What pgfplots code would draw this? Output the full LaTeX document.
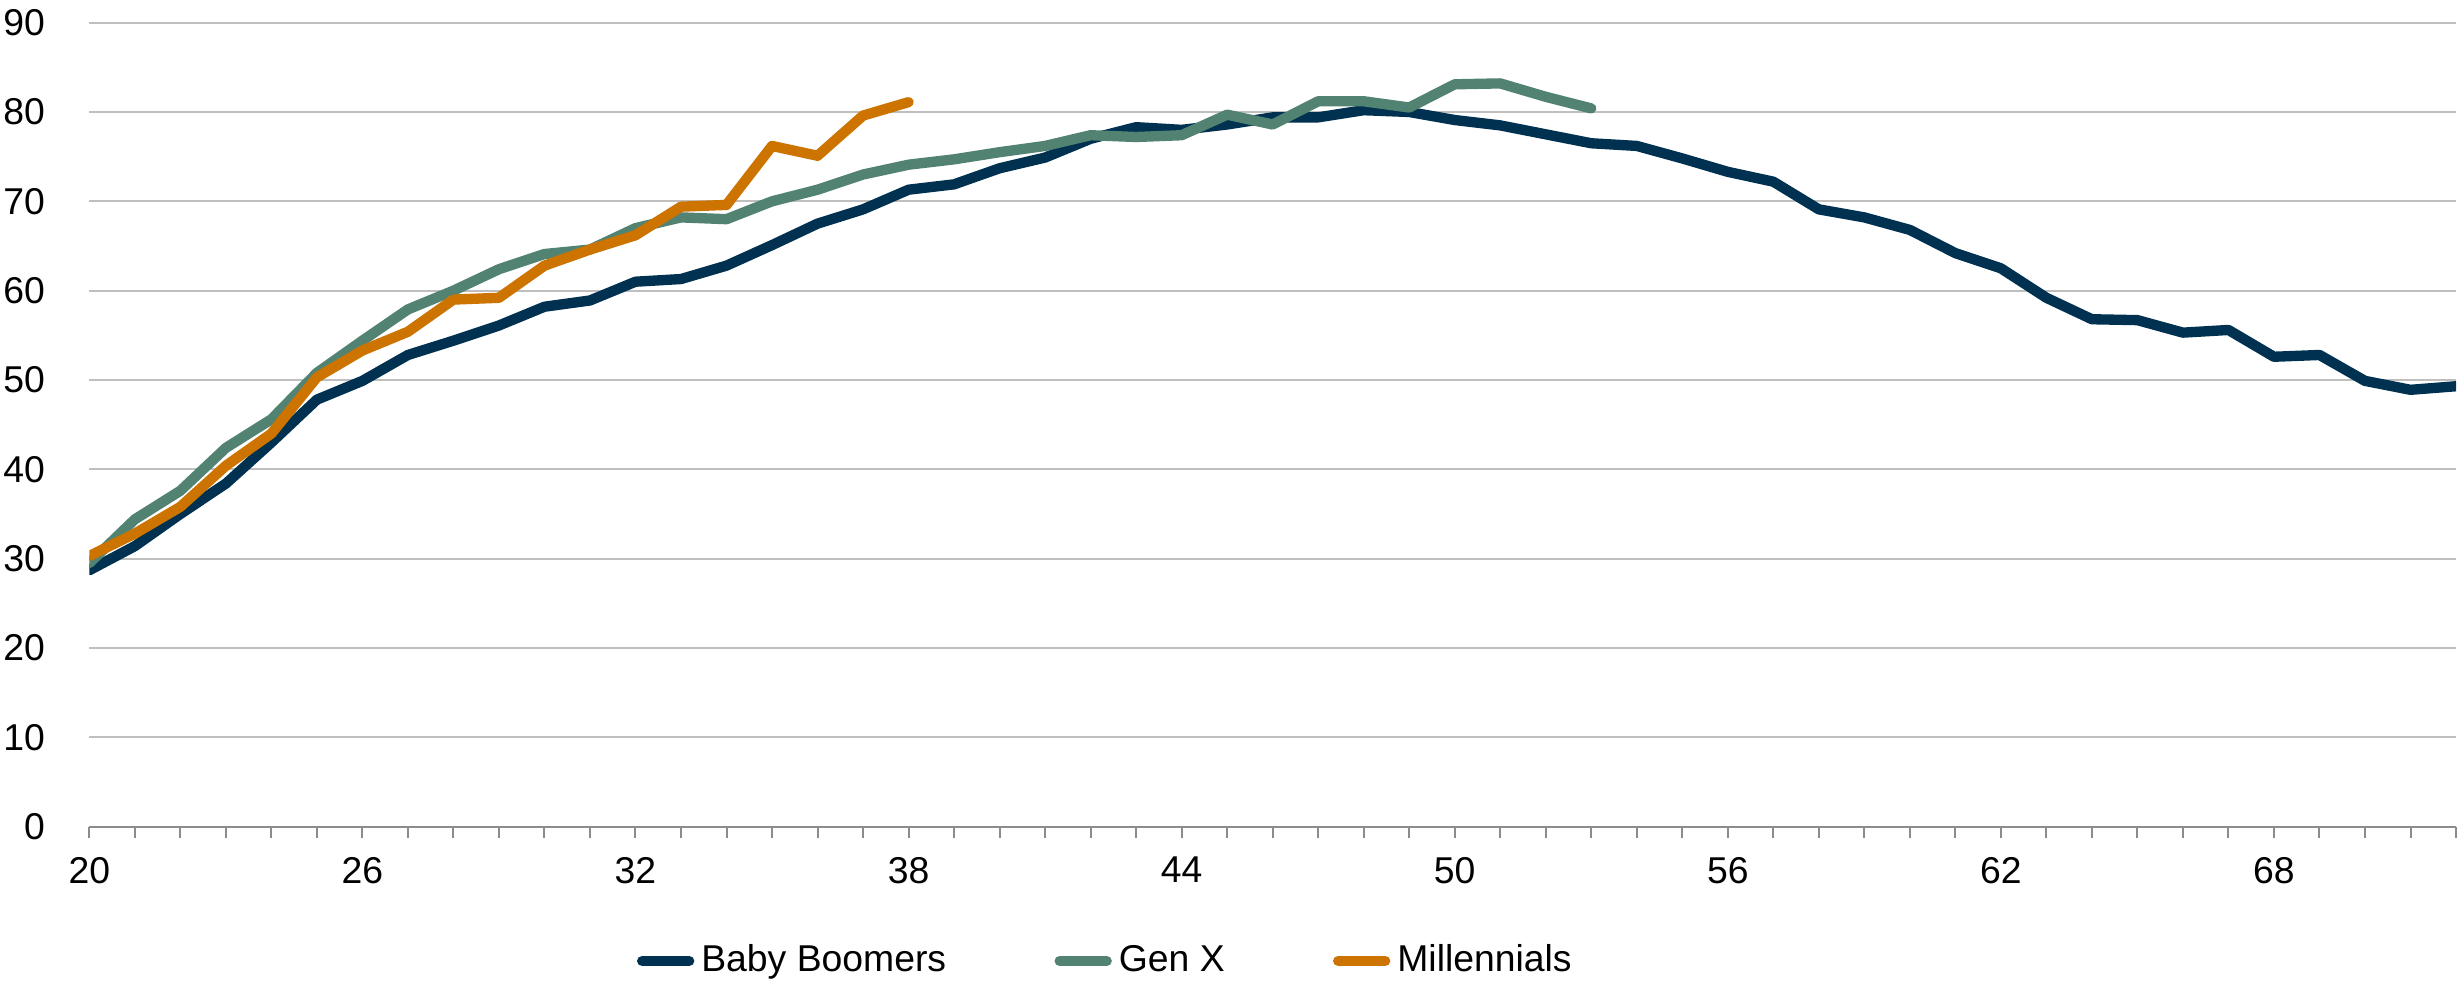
\documentclass[border=0pt]{standalone}
\usepackage{pgfplots}
\pgfplotsset{compat=1.18}
\usepackage{fontspec}
\setmainfont{Liberation Sans}

\definecolor{boomer}{RGB}{0,49,80}
\definecolor{genx}{RGB}{82,131,114}
\definecolor{mill}{RGB}{204,115,0}
\definecolor{gridgray}{RGB}{191,191,191}
\definecolor{axisgray}{RGB}{140,140,140}

\begin{document}
\begin{tikzpicture}
\begin{axis}[
  name=ax,
  scale only axis,
  width=710pt, height=241.2pt,
  xmin=20, xmax=72, ymin=0, ymax=90,
  xtick={20,26,...,68},
  minor xtick={20,...,72},
  ytick={0,10,...,90},
  tick align=outside,
  major tick length=3.3pt, minor tick length=3.3pt,
  axis y line*=left,
  axis x line*=bottom,
  y axis line style={draw=none},
  x axis line style={draw=axisgray, line width=0.6pt, -},
  xtick style={draw=axisgray, line width=0.6pt},
  minor x tick style={draw=axisgray, line width=0.6pt},
  ytick style={draw=none},
  ymajorgrids,
  major grid style={draw=gridgray, line width=0.6pt},
  font=\fontsize{11.2}{13}\selectfont,
  /pgf/number format/assume math mode=true,
  xticklabel style={inner sep=0pt, anchor=north, yshift=-5.7pt},
  yticklabel style={inner sep=0pt, anchor=east, xshift=-9.8pt},
  every axis plot/.append style={line width=3.1pt, line cap=round, line join=round},
  legend columns=3,
  legend style={draw=none, fill=none, inner sep=0pt, outer sep=0pt,
    at={(axis description cs:0.2293,-0.167)}, anchor=west,
    nodes={inner sep=0pt},
    /tikz/every odd column/.append style={column sep=0.6pt},
    /tikz/every even column/.append style={column sep=31pt}},
  legend image code/.code={
    \path (0pt,0pt) (17.1pt,0pt);
    \draw[#1, line cap=round] (1.5pt,0pt) -- (15.6pt,0pt);},
]
\addplot[boomer] coordinates {
 (20,28.7) (21,31.4) (22,35.0) (23,38.4) (24,43.0) (25,47.8) (26,49.9)
 (27,52.8) (28,54.4) (29,56.1) (30,58.2) (31,58.9) (32,61.0) (33,61.3)
 (34,62.8) (35,65.1) (36,67.5) (37,69.1) (38,71.3) (39,71.9) (40,73.7)
 (41,74.9) (42,77.0) (43,78.3) (44,78.0) (45,78.6) (46,79.4) (47,79.4)
 (48,80.2) (49,80.0) (50,79.1) (51,78.5) (52,77.5) (53,76.5) (54,76.2)
 (55,74.8) (56,73.3) (57,72.2) (58,69.1) (59,68.2) (60,66.8) (61,64.2)
 (62,62.5) (63,59.2) (64,56.8) (65,56.7) (66,55.3) (67,55.6) (68,52.6)
 (69,52.8) (70,49.9) (71,48.9) (72,49.3)
};
\addlegendentry{Baby Boomers}
\addplot[genx] coordinates {
 (20,29.5) (21,34.4) (22,37.6) (23,42.4) (24,45.6) (25,50.8) (26,54.4)
 (27,57.9) (28,60.0) (29,62.4) (30,64.1) (31,64.6) (32,67.0) (33,68.2)
 (34,68.0) (35,70.0) (36,71.3) (37,73.0) (38,74.1) (39,74.7) (40,75.5)
 (41,76.2) (42,77.4) (43,77.2) (44,77.4) (45,79.7) (46,78.6) (47,81.2)
 (48,81.2) (49,80.5) (50,83.1) (51,83.2) (52,81.7) (53,80.4)
};
\addlegendentry{Gen X}
\addplot[mill] coordinates {
 (20,30.3) (21,32.8) (22,35.8) (23,40.4) (24,44.0) (25,50.3) (26,53.3)
 (27,55.4) (28,59.0) (29,59.2) (30,62.8) (31,64.6) (32,66.2) (33,69.4)
 (34,69.6) (35,76.2) (36,75.1) (37,79.6) (38,81.1)
};
\addlegendentry{Millennials}
\end{axis}
\pgfresetboundingbox
\path[use as bounding box] ([xshift=-26.8pt,yshift=-46.6pt]ax.south west)
  rectangle ([xshift=0.6pt,yshift=6.8pt]ax.north east);
\end{tikzpicture}
\end{document}
